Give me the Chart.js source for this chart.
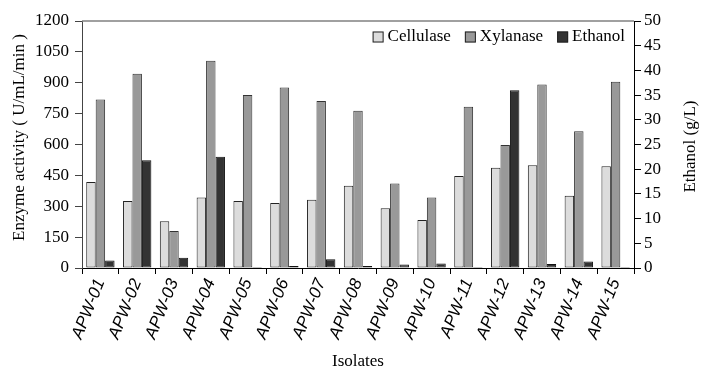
<!DOCTYPE html>
<html lang="en">
<head>
    <meta charset="UTF-8">
    <title>Enzyme activity and ethanol by isolate</title>
    <script src="https://cdn.jsdelivr.net/npm/chart.js"></script>
    <style>
        body { margin: 0; background: #fff; }
        #box { width: 701px; height: 370px; }
    </style>
</head>
<body>
    <div id="box">
        <canvas id="grafico" width="701" height="370"></canvas>
    </div>

<script>
    // dados
    const isolados = ["APW-01", "APW-02", "APW-03", "APW-04", "APW-05", "APW-06", "APW-07", "APW-08",
        "APW-09", "APW-10", "APW-11", "APW-12", "APW-13", "APW-14", "APW-15"];
    const celulase = [418, 325, 227, 342, 325, 316, 332, 400, 290, 233, 447, 487, 499, 351, 494];
    const xilanase = [819, 944, 180, 1007, 840, 877, 811, 764, 410, 342, 784, 597, 892, 664, 905];
    const etanol = [1.5, 21.8, 2.1, 22.5, 0.2, 0.4, 1.75, 0.4, 0.7, 0.9, 0.2, 36.0, 0.8, 1.3, 0.2];

    const serif = "'Liberation Serif', 'Times New Roman', serif";

    Chart.defaults.font.family = serif;
    Chart.defaults.font.size = 17;
    Chart.defaults.color = "#000";

    // linha de cima, legenda dentro da area e titulos dos eixos y (lidos de baixo para cima)
    const extras = {
        id: "extras",
        afterDraw(chart) {
            const ctx = chart.ctx;
            const area = chart.chartArea;
            ctx.save();
            ctx.strokeStyle = "#808080";
            ctx.lineWidth = 1.5;
            ctx.beginPath();
            ctx.moveTo(area.left, area.top);
            ctx.lineTo(area.right, area.top);
            ctx.stroke();

            ctx.fillStyle = "#000";
            ctx.font = "17px " + serif;
            ctx.textBaseline = "middle";

            // legenda
            const sets = chart.data.datasets;
            let x = area.right - 9;
            const yLeg = area.top + 16;
            for (let i = sets.length - 1; i >= 0; i--) {
                const w = ctx.measureText(sets[i].label).width;
                x -= w;
                ctx.textAlign = "left";
                ctx.fillStyle = "#000";
                ctx.fillText(sets[i].label, x, yLeg);
                x -= 4 + 11;
                ctx.fillStyle = sets[i].backgroundColor;
                ctx.fillRect(x, yLeg - 5.5, 11, 11);
                ctx.strokeStyle = "#222";
                ctx.lineWidth = 1;
                ctx.strokeRect(x + 0.5, yLeg - 5, 10, 10);
                x -= 14;
            }

            ctx.fillStyle = "#000";
            ctx.textAlign = "center";
            const meio = (area.top + area.bottom) / 2;

            ctx.save();
            ctx.translate(20, meio - 7);
            ctx.rotate(-Math.PI / 2);
            ctx.fillText("Enzyme activity ( U/mL/min )", 0, 0);
            ctx.restore();

            ctx.save();
            ctx.translate(691, meio + 2);
            ctx.rotate(-Math.PI / 2);
            ctx.fillText("Ethanol (g/L)", 0, 0);
            ctx.restore();

            ctx.restore();
        }
    };

    const dados = {
        labels: isolados,
        datasets: [
            {
                label: "Cellulase",
                data: celulase,
                yAxisID: "y",
                backgroundColor: "#dcdcdc",
                borderColor: "#222",
                borderWidth: 1,
                borderSkipped: false
            },
            {
                label: "Xylanase",
                data: xilanase,
                yAxisID: "y",
                backgroundColor: "#999999",
                borderColor: "#333",
                borderWidth: 1,
                borderSkipped: false
            },
            {
                label: "Ethanol",
                data: etanol,
                yAxisID: "y1",
                backgroundColor: "#333333",
                borderColor: "#111",
                borderWidth: 1,
                borderSkipped: false
            }
        ]
    };

    const config = {
        type: "bar",
        data: dados,
        plugins: [extras],
        options: {
            responsive: false,
            animation: false,
            devicePixelRatio: 1,
            categoryPercentage: 0.77,
            barPercentage: 1.0,
            layout: { padding: { top: 21, left: 0, right: 0, bottom: 0 } },
            plugins: {
                tooltip: { enabled: false },
                legend: { display: false }
            },
            scales: {
                x: {
                    grid: {
                        display: true,
                        drawOnChartArea: false,
                        offset: true,
                        tickLength: 6,
                        color: "#000"
                    },
                    border: { color: "#000", width: 1 },
                    ticks: {
                        autoSkip: false,
                        minRotation: 68,
                        maxRotation: 68,
                        padding: 2,
                        font: { family: "'Liberation Sans', Arial, sans-serif", style: "italic", size: 17 }
                    },
                    title: {
                        display: true,
                        text: "Isolates",
                        font: { size: 17, family: serif, lineHeight: 1 },
                        padding: { top: 0, bottom: 0 }
                    },
                    afterFit(scale) { scale.height = 102; }
                },
                y: {
                    position: "left",
                    min: 0,
                    max: 1200,
                    ticks: {
                        stepSize: 150,
                        padding: 6,
                        callback: (v) => String(v)
                    },
                    grid: {
                        drawOnChartArea: false,
                        tickLength: 7,
                        color: "#444"
                    },
                    border: { color: "#444", width: 1 },
                    afterFit(scale) { scale.width = 82; }
                },
                y1: {
                    position: "right",
                    min: 0,
                    max: 50,
                    ticks: {
                        stepSize: 5,
                        padding: 3,
                        callback: (v) => String(v)
                    },
                    grid: {
                        drawOnChartArea: false,
                        tickLength: 7,
                        color: "#000"
                    },
                    border: { color: "#000", width: 1 },
                    afterFit(scale) { scale.width = 67; }
                }
            }
        }
    };

    const myChart = new Chart(document.getElementById("grafico"), config);
</script>
</body>
</html>
